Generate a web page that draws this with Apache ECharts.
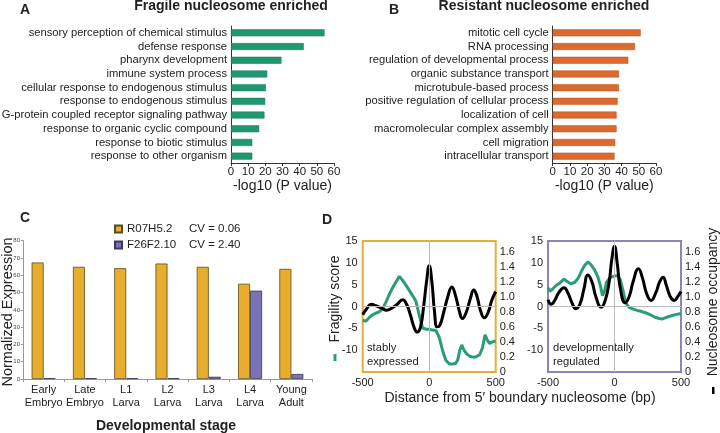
<!DOCTYPE html>
<html>
<head>
<meta charset="utf-8">
<script src="https://cdn.jsdelivr.net/npm/echarts@6/dist/echarts.min.js"></script>
<style>
  html, body { margin: 0; padding: 0; background: #fff; }
  #main { width: 720px; height: 433px; }
</style>
</head>
<body>
<div id="main"></div>
<script>
// panel A - fragile nucleosome GO terms
var termsA = ['sensory perception of chemical stimulus', 'defense response', 'pharynx development',
  'immune system process', 'cellular response to endogenous stimulus', 'response to endogenous stimulus',
  'G-protein coupled receptor signaling pathway', 'response to organic cyclic compound',
  'response to biotic stimulus', 'response to other organism'];
var valuesA = [54.5, 42.4, 29.4, 21.1, 20.3, 19.9, 19.5, 16.4, 12.4, 12.4];

// panel B - resistant nucleosome GO terms
var termsB = ['mitotic cell cycle', 'RNA processing', 'regulation of developmental process',
  'organic substance transport', 'microtubule-based process', 'positive regulation of cellular process',
  'localization of cell', 'macromolecular complex assembly', 'cell migration', 'intracellular transport'];
var valuesB = [51.1, 47.8, 43.9, 38.5, 38.5, 37.7, 37.1, 37.1, 36.3, 35.9];
var pTicks = [0, 60, 10];

// panel C - expression across stages
var stages = ['Early\nEmbryo', 'Late\nEmbryo', 'L1\nLarva', 'L2\nLarva', 'L3\nLarva', 'L4\nLarva', 'Young\nAdult'];
var geneNames = ['R07H5.2', 'F26F2.10'];
var geneCV = ['CV = 0.06', 'CV = 2.40'];
var exprR07 = [67.4, 64.9, 64.1, 66.8, 64.9, 55.1, 63.7];
var exprF26 = [0.5, 0.5, 0.5, 0.5, 1.3, 51.1, 2.9];

// panel D - [bp, value]
var fragStable = [[-500,-3.2],[-475,-3.3],[-450,-2.5],[-425,-1.9],[-400,-1.5],[-375,-1.2],[-350,-0.5],
  [-325,1.0],[-300,2.8],[-275,4.3],[-250,5.6],[-225,6.9],[-200,6.0],[-175,4.9],[-150,3.7],[-125,2.5],
  [-100,1.2],[-75,-2.0],[-50,-4.9],[-25,-5.2],[0,-5.2],[25,-5.4],[50,-5.5],[75,-7.0],[100,-10.0],
  [125,-12.3],[150,-13.1],[175,-13.2],[200,-13.0],[215,-12.2],[230,-10.0],[245,-8.8],[260,-9.9],
  [280,-10.8],[305,-11.4],[330,-11.6],[355,-11.5],[380,-11.0],[400,-9.5],[420,-6.5],[435,-7.6],
  [455,-8.5],[475,-8.1],[500,-7.9]];
var occStable = [[-500,0.76],[-470,0.84],[-435,0.9],[-400,0.88],[-360,0.85],[-320,0.82],[-280,0.85],
  [-240,0.9],[-200,0.96],[-170,0.9],[-140,0.75],[-115,0.6],[-90,0.53],[-65,0.6],[-40,0.9],[-20,1.2],
  [0,1.41],[20,1.2],[40,0.8],[60,0.6],[80,0.62],[110,0.8],[140,1.0],[170,1.13],[200,1.0],[225,0.82],
  [250,0.71],[280,0.8],[310,0.98],[335,1.09],[360,1.0],[385,0.82],[415,0.72],[445,0.8],[470,0.95],[500,1.07]];
var fragDevel = [[-500,4.3],[-485,3.5],[-465,4.0],[-440,4.8],[-410,5.4],[-380,6.3],[-355,5.7],[-330,5.2],
  [-300,5.5],[-275,6.4],[-250,8.0],[-225,9.4],[-200,10.2],[-175,9.5],[-150,8.4],[-125,6.8],[-105,4.6],
  [-90,2.5],[-75,3.5],[-60,5.6],[-40,6.4],[-20,6.8],[0,7.0],[25,7.1],[45,6.0],[65,3.5],[85,0.8],
  [110,-0.2],[140,-0.6],[170,-0.9],[200,-1.1],[240,-1.5],[270,-1.9],[300,-2.4],[330,-2.7],[355,-2.9],
  [380,-2.6],[410,-2.3],[440,-2.0],[470,-1.8],[500,-1.6]];
var occDevel = [[-500,0.96],[-475,0.9],[-450,0.95],[-420,1.05],[-380,1.12],[-350,1.05],[-320,0.92],
  [-290,0.84],[-260,0.9],[-230,1.1],[-200,1.29],[-170,1.2],[-140,1.0],[-100,0.86],[-70,0.95],[-40,1.2],
  [-20,1.5],[0,1.67],[20,1.45],[45,1.1],[80,0.92],[110,1.0],[140,1.2],[180,1.37],[210,1.25],[240,1.05],
  [275,0.95],[310,1.05],[340,1.2],[365,1.26],[390,1.15],[420,1.0],[450,0.95],[475,1.0],[500,1.07]];

var FONT = '"Liberation Sans", Arial, Helvetica, sans-serif';
var TXT = '#222';
var GREEN = '#2a9d78';

var goXAxis = function (grid) {
  return {
    type: 'value', gridIndex: grid, min: pTicks[0], max: pTicks[1], interval: pTicks[2],
    axisLine: { show: true, lineStyle: { color: '#333', width: 1 } },
    axisTick: { show: true, length: 3, lineStyle: { color: '#333' } },
    axisLabel: { fontSize: 11.5, color: TXT, margin: 3, fontFamily: FONT },
    splitLine: { show: false },
    name: '-log10 (P value)', nameLocation: 'middle', nameGap: 16,
    nameTextStyle: { fontSize: 14, color: TXT, fontFamily: FONT }
  };
};
var goYAxis = function (grid, terms) {
  return {
    type: 'category', gridIndex: grid, data: terms, inverse: true,
    axisLine: { show: true, lineStyle: { color: '#333', width: 1 } },
    axisTick: { show: false },
    axisLabel: {
      fontSize: 11.2, color: TXT, margin: 4, fontFamily: FONT, interval: 0,
      formatter: function (v) { return v === 'response to other organism' ? '{n|' + v + '}' : v; },
      rich: { n: { fontSize: 11.2, color: TXT, fontFamily: '"Liberation Sans Narrow", "Arial Narrow", sans-serif' } }
    }
  };
};
var fragAxis = function (grid) {
  return {
    type: 'value', gridIndex: grid, min: -15, max: 15, interval: 5, position: 'left',
    axisLine: { show: false }, axisTick: { show: false }, splitLine: { show: false },
    axisLabel: { fontSize: 11, color: TXT, margin: 5, fontFamily: FONT, showMinLabel: false }
  };
};
var occAxis = function (grid) {
  return {
    type: 'value', gridIndex: grid, min: 0, max: 1.74, interval: 0.2, position: 'right',
    axisLine: { show: false }, axisTick: { show: false }, splitLine: { show: false },
    axisLabel: {
      fontSize: 11, color: TXT, margin: 4, fontFamily: FONT, showMaxLabel: false,
      formatter: function (v) { return v === 0 ? '0' : v.toFixed(1); }
    }
  };
};
var distAxis = function (grid) {
  return {
    type: 'value', gridIndex: grid, min: -500, max: 500, interval: 500,
    axisLine: { show: false }, axisTick: { show: false }, splitLine: { show: false },
    axisLabel: { fontSize: 11, color: TXT, margin: 5, fontFamily: FONT }
  };
};
var zeroLines = {
  silent: true, symbol: 'none', animation: false,
  label: { show: false },
  lineStyle: { color: '#bbb', width: 1, type: 'solid' },
  data: [{ yAxis: 0 }, { xAxis: 0 }]
};

var option = {
  animation: false,
  textStyle: { fontFamily: FONT },
  grid: [
    { left: 231, top: 26, width: 103, height: 137, outerBoundsMode: 'none' },
    { left: 552.7, top: 26, width: 103.3, height: 137, outerBoundsMode: 'none' },
    { left: 23, top: 240.7, width: 289, height: 138.3, outerBoundsMode: 'none' },
    { left: 362.7, top: 241, width: 133, height: 131, show: true, borderColor: '#e6ae33', borderWidth: 2, backgroundColor: 'transparent', outerBoundsMode: 'none' },
    { left: 548, top: 241, width: 133, height: 131, show: true, borderColor: '#8884be', borderWidth: 2, backgroundColor: 'transparent', outerBoundsMode: 'none' }
  ],
  legend: {
    data: geneNames, left: 114, top: 223, orient: 'vertical',
    itemWidth: 7, itemHeight: 7, itemGap: 4, padding: 0,
    icon: 'rect',
    textStyle: {
      fontSize: 11.5, color: TXT, fontFamily: FONT,
      rich: { a: { width: 62, fontSize: 11.5, color: TXT }, b: { fontSize: 11.5, color: TXT } }
    },
    formatter: function (name) {
      return '{a|' + name + '}{b|' + geneCV[geneNames.indexOf(name)] + '}';
    }
  },
  xAxis: [
    goXAxis(0),
    goXAxis(1),
    {
      type: 'category', gridIndex: 2, data: stages,
      axisLine: { lineStyle: { color: '#999' } },
      axisTick: { show: true, length: 3, lineStyle: { color: '#999' } },
      axisLabel: { fontSize: 11, lineHeight: 13.5, color: TXT, margin: 4, interval: 0, fontFamily: FONT }
    },
    distAxis(3),
    distAxis(4)
  ],
  yAxis: [
    goYAxis(0, termsA),
    goYAxis(1, termsB),
    {
      type: 'value', gridIndex: 2, min: 0, max: 80, interval: 10,
      axisLine: { show: true, lineStyle: { color: '#999' } },
      axisTick: { show: true, length: 2, lineStyle: { color: '#999' } },
      splitLine: { show: false },
      axisLabel: { fontSize: 6, color: '#444', margin: 3, fontFamily: FONT }
    },
    fragAxis(3),
    occAxis(3),
    fragAxis(4),
    occAxis(4)
  ],
  series: [
    {
      type: 'bar', xAxisIndex: 0, yAxisIndex: 0, data: valuesA, barWidth: 7,
      itemStyle: { color: '#1f9872', borderColor: '#15785a', borderWidth: 0.5 }
    },
    {
      type: 'bar', xAxisIndex: 1, yAxisIndex: 1, data: valuesB, barWidth: 7,
      itemStyle: { color: '#dc6a2e', borderColor: '#b4521f', borderWidth: 0.5 }
    },
    {
      name: geneNames[0], type: 'bar', xAxisIndex: 2, yAxisIndex: 2, data: exprR07,
      barWidth: 12, barGap: '0%',
      itemStyle: { color: '#e8ad2c', borderColor: '#5a4a20', borderWidth: 0.8 }
    },
    {
      name: geneNames[1], type: 'bar', xAxisIndex: 2, yAxisIndex: 2, data: exprF26,
      barWidth: 12, barGap: '0%',
      itemStyle: { color: '#7a72b6', borderColor: '#3b365e', borderWidth: 0.8 }
    },
    {
      type: 'line', xAxisIndex: 3, yAxisIndex: 3, data: fragStable, showSymbol: false,
      lineStyle: { color: GREEN, width: 3 }, markLine: zeroLines, z: 3
    },
    {
      type: 'line', xAxisIndex: 3, yAxisIndex: 4, data: occStable, showSymbol: false, smooth: 0.5,
      lineStyle: { color: '#000', width: 3 }, z: 4
    },
    {
      type: 'line', xAxisIndex: 4, yAxisIndex: 5, data: fragDevel, showSymbol: false,
      lineStyle: { color: GREEN, width: 3 }, markLine: zeroLines, z: 3
    },
    {
      type: 'line', xAxisIndex: 4, yAxisIndex: 6, data: occDevel, showSymbol: false, smooth: 0.5,
      lineStyle: { color: '#000', width: 3 }, z: 4
    }
  ],
  graphic: [
    { type: 'text', left: 20, top: 3, style: { text: 'A', fontSize: 14, fontWeight: 'bold', fill: TXT, fontFamily: FONT } },
    { type: 'text', left: 389, top: 3, style: { text: 'B', fontSize: 14, fontWeight: 'bold', fill: TXT, fontFamily: FONT } },
    { type: 'text', left: 20, top: 211, style: { text: 'C', fontSize: 14, fontWeight: 'bold', fill: TXT, fontFamily: FONT } },
    { type: 'text', left: 322, top: 213, style: { text: 'D', fontSize: 14, fontWeight: 'bold', fill: TXT, fontFamily: FONT } },
    { type: 'text', x: 231, y: 6, style: { text: 'Fragile nucleosome enriched', fontSize: 14, fontWeight: 'bold', fill: TXT, fontFamily: FONT, align: 'center', verticalAlign: 'middle' } },
    { type: 'text', x: 544, y: 6, style: { text: 'Resistant nucleosome enriched', fontSize: 14, fontWeight: 'bold', fill: TXT, fontFamily: FONT, align: 'center', verticalAlign: 'middle' } },
    { type: 'text', x: 8, y: 312, rotation: Math.PI / 2, style: { text: 'Normalized Expression', fontSize: 14.5, fill: TXT, fontFamily: FONT, align: 'center', verticalAlign: 'middle' } },
    { type: 'text', x: 166, y: 426, style: { text: 'Developmental stage', fontSize: 14, fontWeight: 'bold', fill: TXT, fontFamily: FONT, align: 'center', verticalAlign: 'middle' } },
    { type: 'text', x: 335, y: 299, rotation: Math.PI / 2, style: { text: 'Fragility score', fontSize: 14, fill: TXT, fontFamily: FONT, align: 'center', verticalAlign: 'middle' } },
    { type: 'rect', shape: { x: 333.5, y: 354, width: 3, height: 7 }, style: { fill: GREEN } },
    { type: 'text', x: 713, y: 302, rotation: Math.PI / 2, style: { text: 'Nucleosome occupancy', fontSize: 14, fill: TXT, fontFamily: FONT, align: 'center', verticalAlign: 'middle' } },
    { type: 'rect', shape: { x: 712, y: 387, width: 2.5, height: 7 }, style: { fill: '#000' } },
    { type: 'text', x: 520, y: 398, style: { text: 'Distance from 5\u2032 boundary nucleosome (bp)', fontSize: 14, fill: TXT, fontFamily: FONT, align: 'center', verticalAlign: 'middle' } },
    { type: 'text', left: 367, top: 341, style: { text: 'stably\nexpressed', fontSize: 11.2, lineHeight: 14, fill: TXT, fontFamily: FONT } },
    { type: 'text', left: 553, top: 341, style: { text: 'developmentally\nregulated', fontSize: 11.2, lineHeight: 14, fill: TXT, fontFamily: FONT } }
  ]
};

var myChart = echarts.init(document.getElementById('main'));
option && myChart.setOption(option);
window.addEventListener('resize', function () { myChart.resize(); });
</script>
</body>
</html>
